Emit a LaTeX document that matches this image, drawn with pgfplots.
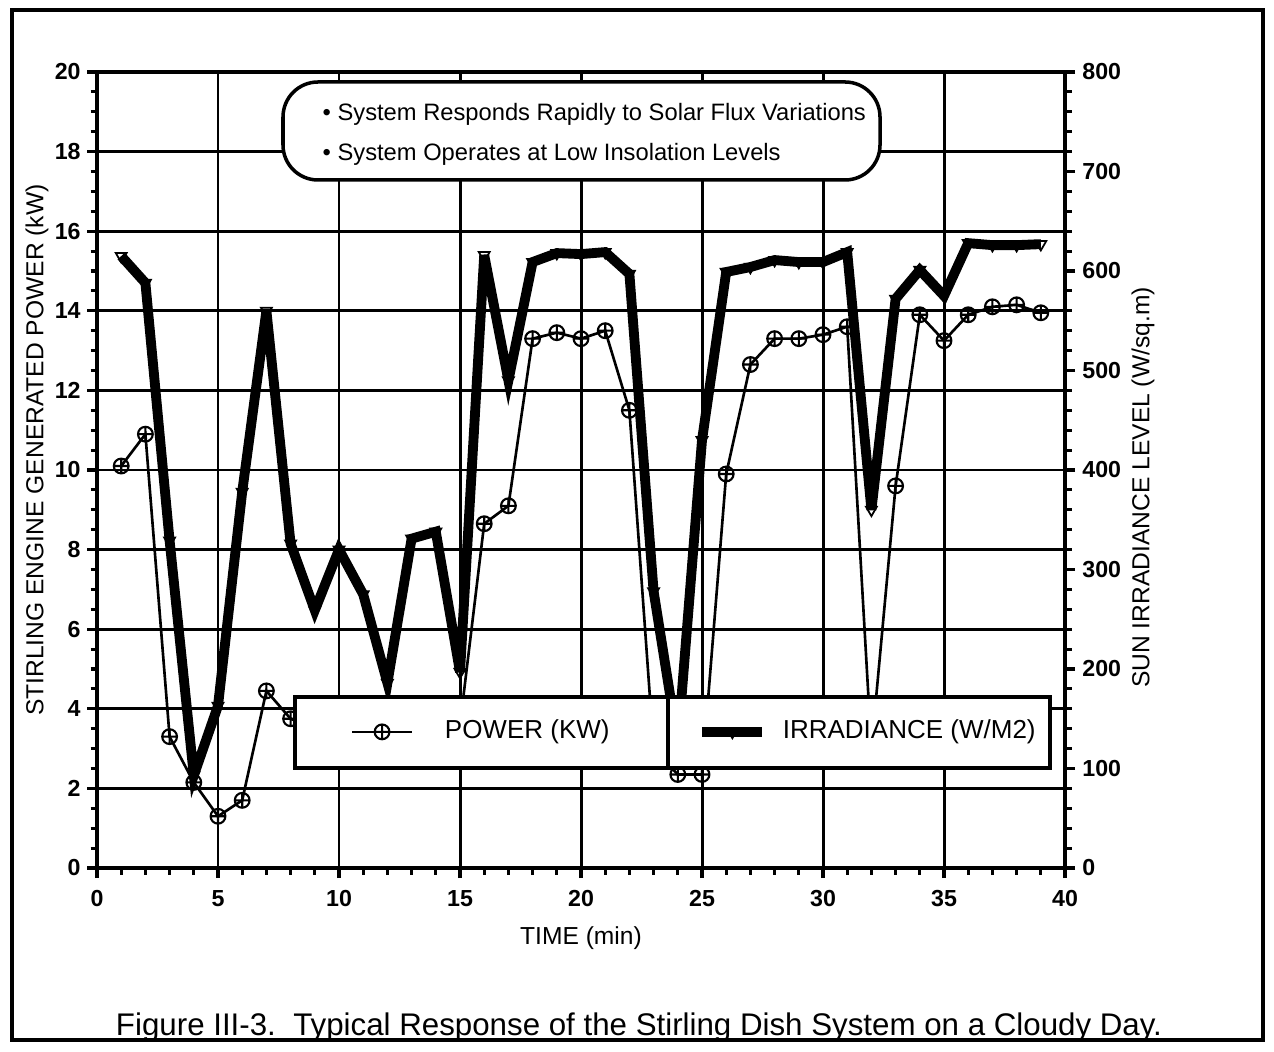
\documentclass[border=0pt]{standalone}
\usepackage{fontspec}
\setmainfont{Liberation Sans}
\usepackage{pgfplots}
\usepackage{pgfplotstable}
\pgfplotsset{compat=1.18}

\pgfplotstableread{
t p
1 10.1
2 10.9
3 3.3
4 2.15
5 1.3
6 1.7
7 4.45
8 3.75
9 3.5
10 3.7
11 3.4
12 3.0
13 3.6
14 3.8
15 3.6
16 8.65
17 9.1
18 13.3
19 13.45
20 13.3
21 13.5
22 11.5
23 3.0
24 2.35
25 2.35
26 9.9
27 12.65
28 13.3
29 13.3
30 13.4
31 13.6
32 3.0
33 9.6
34 13.9
35 13.25
36 13.9
37 14.1
38 14.15
39 13.95
}\powerdata

\pgfplotstableread{
t r
1 615
2 588
3 329
4 93
5 163
6 378
7 560
8 326
9 259
10 320
11 275
12 186
13 331
14 338
15 197
16 616
17 490
18 609
19 618
20 617
21 619
22 597
23 278
24 125
25 430
26 599
27 604
28 611
29 609
30 609
31 619
32 360
33 572
34 601
35 575
36 628
37 626
38 626
39 627
}\irrdata

\pgfplotsset{
  powerstyle/.style={black, line width=0.75pt, mark=oplus, mark size=2.1pt,
     mark options={fill=white, line width=0.6pt, solid}},
  irrstyle/.style={black, line width=2.8pt, line join=miter, miter limit=6, mark=triangle, mark size=1.8pt,
     mark options={rotate=180, fill=white, line width=0.5pt, solid}},
  commonax/.style={
    at={(9.7mm,18.3mm)}, anchor=south west, scale only axis,
    width=96.8mm, height=79.6mm,
    xmin=0, xmax=40,
    tick align=outside,
    major tick length=1mm, minor tick length=0.65mm,
    tick style={black, line width=0.9pt},
    axis line style={line width=1.1pt},
    ticklabel style={font=\bfseries\fontsize{6.6}{8}\selectfont},
    /pgf/number format/assume math mode=true,
    label style={font=\fontsize{7}{8}\selectfont},
  },
}

\begin{document}
\begin{tikzpicture}
\useasboundingbox (0,0) rectangle (127.4mm,105.1mm);
\fill[white] (0,0) rectangle (127.4mm,105.1mm);

\begin{axis}[commonax,
  ymin=0, ymax=20,
  xtick={0,5,...,40}, ytick={0,2,...,20},
  minor x tick num=4, minor y tick num=3,
  tick pos=left,
  yticklabel style={xshift=0.6mm},
  grid=major, major grid style={black, line width=0.85pt},
  xlabel={TIME (min)},
  ylabel={STIRLING ENGINE GENERATED POWER (kW)},
  xlabel style={at={(axis description cs:0.5,-0.088)}, anchor=center},
  ylabel style={at={(axis description cs:-0.062,0.525)}, anchor=center},
]
\addplot[powerstyle] table[x=t,y=p] {\powerdata};
\end{axis}

\begin{axis}[commonax,
  axis x line=none, axis y line*=right,
  ymin=0, ymax=800,
  ytick={0,100,...,800}, minor y tick num=4,
  yticklabel style={xshift=-0.5mm},
  ylabel={SUN IRRADIANCE LEVEL (W/sq.m)},
  ylabel style={at={(axis description cs:1.0806,0.478)}, anchor=center},
  legend style={at={(axis description cs:0.2614,0.171)}, anchor=west,
    draw=none, fill=none, legend columns=2, inner sep=0pt,
    font=\fontsize{7.4}{8}\selectfont,
    /tikz/every odd column/.append style={column sep=2.45mm},
    /tikz/every even column/.append style={column sep=4.55mm}},
  legend cell align=left,
]
\addlegendimage{powerstyle}
\addlegendentry{\makebox[20mm][l]{POWER (KW)}}
\addplot[irrstyle, mark indices={1,...,23,25,26,...,39}, forget plot] table[x=t,y=r] {\irrdata};
\addlegendimage{irrstyle}
\addlegendentry{\hspace*{-1.6mm}IRRADIANCE (W/M2)}
\draw[fill=white, line width=1.1pt] (rel axis cs:0.2045,0.1256) rectangle (rel axis cs:0.9845,0.2148);
\draw[line width=0.9pt] (rel axis cs:0.5899,0.1256) -- (rel axis cs:0.5899,0.2148);
\end{axis}

% annotation box
\draw[line width=1pt, rounded corners=3.5mm, fill=white] (28.3mm,87.1mm) rectangle (88mm,96.9mm);
\node[anchor=base west, inner sep=0pt, font=\fontsize{6.75}{8}\selectfont] at (32.2mm,93.0mm) {• System Responds Rapidly to Solar Flux Variations};
\node[anchor=base west, inner sep=0pt, font=\fontsize{6.75}{8}\selectfont] at (32.2mm,89.0mm) {• System Operates at Low Insolation Levels};

% title
\node[anchor=base, inner sep=0pt, font=\fontsize{8.9}{10}\selectfont] at (63.9mm,1.6mm) {Figure III-3.\ \ Typical Response of the Stirling Dish System on a Cloudy Day.};

% frame
\draw[line width=1.1pt] (1.2mm,1.1mm) rectangle (126.3mm,104.1mm);
\end{tikzpicture}
\end{document}
